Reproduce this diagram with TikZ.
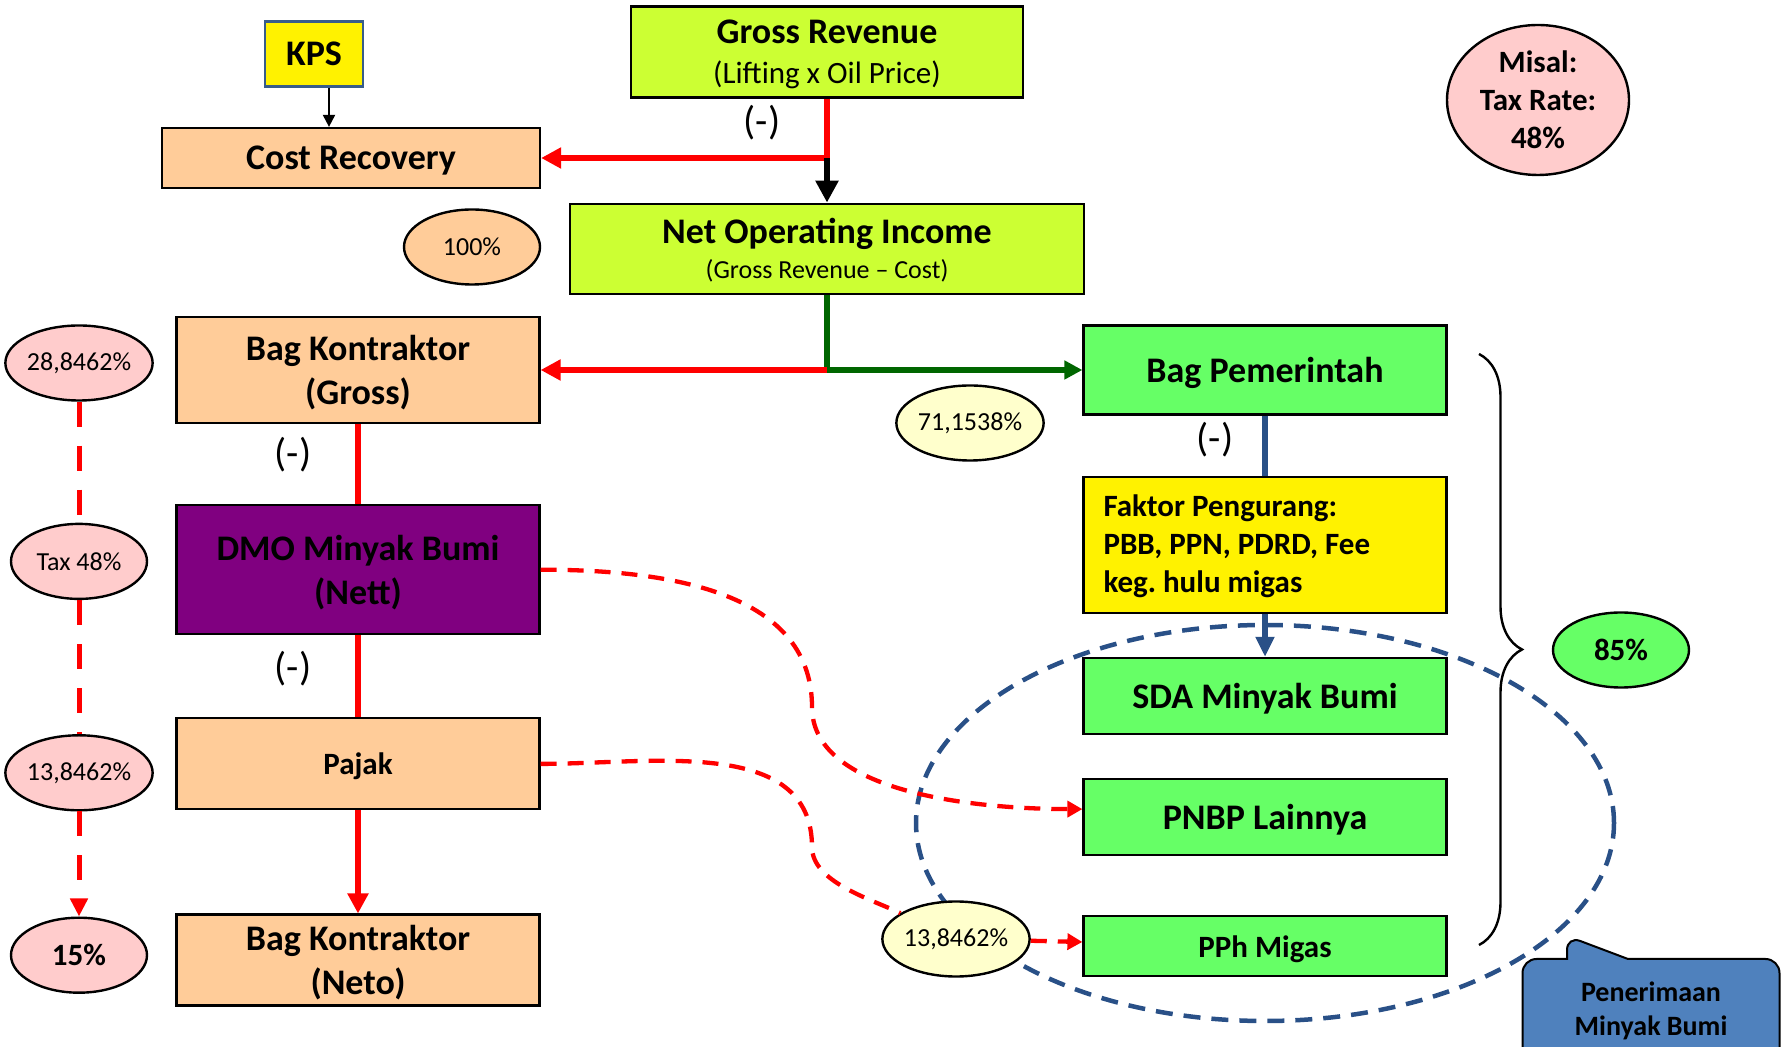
\documentclass[tikz,border=0pt]{standalone}
\usepackage{fontspec}
\setmainfont{Carlito}
\usepackage{xcolor}
\usepackage{tikz}
\usetikzlibrary{arrows.meta,positioning,shapes.geometric,shapes.callouts,decorations.pathreplacing}
\frenchspacing
\definecolor{limeg}{RGB}{204,255,51}
\definecolor{peach}{RGB}{255,204,153}
\definecolor{brightg}{RGB}{102,255,102}
\definecolor{pinkc}{RGB}{255,204,204}
\definecolor{paley}{RGB}{255,255,204}
\definecolor{purp}{RGB}{128,0,128}
\definecolor{darkg}{RGB}{0,102,0}
\definecolor{navyb}{RGB}{41,80,135}
\definecolor{kpsline}{RGB}{56,93,138}
\definecolor{callb}{RGB}{79,129,189}
\newcommand{\fbig}{\fontsize{36}{44}\selectfont\bfseries}
\newcommand{\fmed}{\fontsize{31}{38}\selectfont\bfseries}
\newcommand{\fsml}{\fontsize{26}{32}\selectfont}
\newcommand{\fminus}{\fontsize{40}{44}\selectfont}
\tikzset{
  bx/.style={draw=black, line width=2.2pt, align=center, inner sep=4pt, text depth=0pt, minimum width=363pt, font=\fbig},
  pct/.style={ellipse, draw=black, line width=2.4pt, align=center, inner sep=0pt, minimum width=136pt, minimum height=75pt, font=\fsml},
  rline/.style={red, line width=6pt},
  rarr/.style={-{Triangle[length=20pt,width=20pt]}, red, line width=6pt},
  karr/.style={-{Triangle[length=22pt,width=22pt]}, black, line width=6.5pt},
  gline/.style={darkg, line width=6pt},
  garr/.style={-{Triangle[length=18pt,width=18pt]}, darkg, line width=6pt},
  bline/.style={navyb, line width=6pt},
  barr/.style={-{Triangle[length=20pt,width=18pt]}, navyb, line width=6pt},
  tarr/.style={-{Triangle[length=12pt,width=12pt]}, black, line width=2pt},
  rdash/.style={red, line width=5pt, dash pattern=on 25pt off 19pt},
  cdash/.style={-{Triangle[length=15pt,width=16pt]}, red, line width=4.3pt, dash pattern=on 16pt off 11pt},
  ring/.style={navyb, line width=4.5pt, dash pattern=on 17pt off 11pt}
}
\begin{document}
\begin{tikzpicture}[x=1pt, y=1pt]
\useasboundingbox (0,0) rectangle (1789,1047);
\draw[ring] (1265,224) ellipse [x radius=349pt, y radius=198pt];
\node[draw=kpsline, line width=2.4pt, fill=yellow, minimum width=98pt, minimum height=65pt, font=\fbig] (k1) at (314,993) {KPS};
\node[bx, fill=limeg, minimum width=392pt, minimum height=91pt] (c1) at (827,995) {Gross Revenue\\[-4pt]{\fontsize{31}{38}\selectfont\mdseries (Lifting x Oil Price)}};
\node[bx, fill=peach, minimum width=378pt, minimum height=60pt] (c0) at (351,889) {Cost Recovery};
\node[bx, fill=limeg, minimum width=514pt, minimum height=90pt, below=104pt of c1] (c2) {Net Operating Income\\[-9pt]{\fsml\mdseries (Gross Revenue \textendash{} Cost)}};
\node[bx, fill=peach, minimum height=106pt] (l1) at (358,677) {Bag Kontraktor\\(Gross)};
\node[bx, fill=purp, minimum height=129pt, below=80pt of l1] (l2) {DMO Minyak Bumi\\(Nett)};
\node[bx, fill=peach, minimum height=91pt, below=82pt of l2, font=\fmed] (l3) {Pajak};
\node[bx, fill=peach, minimum height=91pt, below=103pt of l3] (l4) {Bag Kontraktor\\(Neto)};
\node[bx, fill=brightg, minimum height=89pt] (r1) at (1265,677) {Bag Pemerintah};
\node[bx, fill=yellow, minimum height=136pt, below=60pt of r1, text width=323pt, text depth=78pt, align=flush left, font=\fmed] (r2) {Faktor Pengurang:\\PBB, PPN, PDRD, Fee\\keg. hulu migas};
\node[bx, fill=brightg, minimum height=76pt, below=43pt of r2] (r3) {SDA Minyak Bumi};
\node[bx, fill=brightg, minimum height=76pt, below=43pt of r3] (r4) {PNBP Lainnya};
\node[bx, fill=brightg, minimum height=60pt, below=59pt of r4, font=\fmed] (r5) {PPh Migas};
\node[pct, fill=pinkc] (e1) at (79,684) {28,8462\%};
\node[pct, fill=pinkc, below=121pt of e1] (e2) {Tax 48\%};
\node[pct, fill=pinkc, below=134pt of e2] (e3) {13,8462\%};
\node[pct, fill=pinkc, below=105pt of e3, font=\fmed] (e4) {15\%};
\node[pct, fill=peach] (e5) at (472,800) {100\%};
\node[pct, fill=paley] (e6) at (970,624) {71,1538\%};
\node[pct, fill=paley] (e7) at (956,108) {13,8462\%};
\node[pct, fill=brightg, font=\fmed] (e8) at (1621,397) {85\%};
\node[pct, fill=pinkc, minimum width=182pt, minimum height=150pt, font=\fmed] (e9) at (1538,947) {Misal:\\Tax Rate:\\48\%};
\node[font=\fminus] (m1) at (762,924) {(-)};
\node[font=\fminus] (m2) at (293,592) {(-)};
\node[font=\fminus] (m3) at (1215,607) {(-)};
\node[font=\fminus] (m4) at (293,378) {(-)};
\node[rectangle callout, draw=black, line width=2pt, fill=callb, rounded corners=14pt, minimum width=257pt, minimum height=104pt, align=center, font=\fontsize{28}{34}\selectfont\bfseries, callout absolute pointer={(1567,111)}, callout pointer width=61pt] (b1) at (1651,36) {Penerimaan\\Minyak Bumi};
\draw[decorate, decoration={brace, amplitude=43pt}, line width=2.4pt] (1479,693) -- (1479,102);
\coordinate (s1) at (c1.south |- c0.east);
\coordinate (s2) at (c2.south |- l1.east);
\draw[rline] (c1.south) -- (s1); \draw[rarr] (s1) -- (c0.east); \draw[karr] (s1) -- (c2.north);
\draw[tarr] ([xshift=15pt]k1.south) -- ([xshift=15pt]k1.south |- c0.north);
\draw[gline] (c2.south) -- (s2); \draw[rarr] (s2) -- (l1.east); \draw[garr] (s2) -- (r1.west);
\draw[rline] (l1) -- (l2); \draw[rline] (l2) -- (l3); \draw[rarr] (l3) -- (l4);
\draw[bline] (r1) -- (r2); \draw[barr] (r2) -- (r3);
\draw[rdash] (e1) -- (e2); \draw[rdash] (e2) -- (e3);
\draw[rdash, -{Triangle[length=18pt,width=17pt]}] (e3) -- (e4);
\coordinate (w1) at (812,340);
\coordinate (w2) at (812,200);
\draw[cdash] (l2.east) to[out=0, in=90] (w1) to[out=-90, in=180, looseness=0.8] ([yshift=8pt]r4.west);
\draw[cdash, -] (l3.east) to[out=0, in=90] (w2) to[out=-90, in=155, looseness=0.8] (e7);
\draw[cdash] (e7) -- (r5);
\end{tikzpicture}
\end{document}
